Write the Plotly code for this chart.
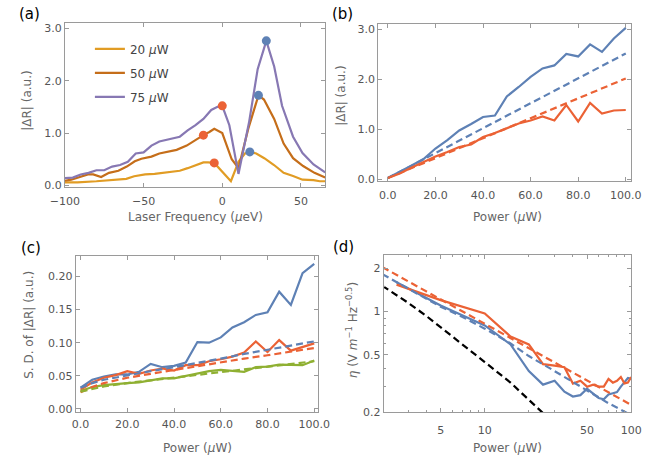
import plotly.graph_objects as go

# ---------------- panel (a): |ΔR| vs laser detuning ----------------
freq_20 = [-100, -92, -80, -72, -61, -56, -49, -43, -37, -31, -27, -22, -17, -12, -9, -5.1,
           5.5, 10.3, 14.4, 17.5, 21.6, 26.7, 32.9, 39, 45, 51, 58, 62, 65.4]
dr_20 = [0.06, 0.06, 0.08, 0.10, 0.125, 0.175, 0.21, 0.22, 0.24, 0.26, 0.28, 0.33, 0.39, 0.44, 0.44, 0.43,
         0.08, 0.45, 0.61, 0.64, 0.61, 0.52, 0.39, 0.24, 0.18, 0.11, 0.10, 0.08, 0.08]

freq_50 = [-100, -96, -90.5, -85.4, -82, -77, -72, -66, -60.7, -55.6, -51.4, -45, -40, -35, -29,
           -22.6, -17.5, -12, -8.2, -5.1, 0, 6, 10.3, 16.5, 23, 26.5, 33, 39, 45, 51.4, 58.6, 65.4]
dr_50 = [0.09, 0.11, 0.16, 0.21, 0.21, 0.16, 0.24, 0.28, 0.36, 0.46, 0.51, 0.55, 0.61, 0.64, 0.68,
         0.76, 0.86, 0.96, 1.02, 1.08, 1.00, 0.50, 0.33, 1.08, 1.72, 1.64, 1.27, 0.80, 0.52, 0.37, 0.24, 0.15]

freq_75 = [-100, -95, -90, -85, -80, -75, -70, -65, -60, -55, -50, -45, -40, -35, -30, -27, -22,
           -17, -12, -7, -3, 0, 4.5, 10.3, 17, 22.5, 28, 33, 38, 45, 51, 58, 65.4]
dr_75 = [0.14, 0.15, 0.21, 0.24, 0.29, 0.29, 0.36, 0.39, 0.45, 0.61, 0.63, 0.76, 0.84, 0.88, 0.91, 0.93, 1.05,
         1.15, 1.27, 1.44, 1.50, 1.52, 1.15, 0.22, 1.20, 2.22, 2.76, 2.27, 1.52, 0.93, 0.62, 0.40, 0.25]

low_peak_freq = [0, -12, -5.1]
low_peak_dr = [1.52, 0.96, 0.43]
high_peak_freq = [28, 23, 17.5]
high_peak_dr = [2.76, 1.72, 0.64]

# ---------------- panel (b): peak height vs power ----------------
power = [0, 5, 10, 15, 20, 25, 30, 35, 40, 45, 50, 55, 60, 65, 70, 75, 80, 85, 90, 95, 100]
peak_blue = [0.03, 0.15, 0.28, 0.41, 0.62, 0.79, 0.98, 1.11, 1.25, 1.28, 1.66, 1.85, 2.05, 2.22, 2.28,
             2.51, 2.46, 2.70, 2.55, 2.82, 3.03]
peak_red = [0.03, 0.12, 0.24, 0.35, 0.46, 0.55, 0.65, 0.70, 0.85, 0.93, 1.02, 1.12, 1.18, 1.26, 1.18,
            1.49, 1.16, 1.53, 1.32, 1.38, 1.39]
lin_power = [0, 100]
lin_blue = [0.03, 2.52]
lin_red = [0.03, 2.02]

# ---------------- panel (c): standard deviation vs power ----------------
sd_blue = [0.032, 0.044, 0.049, 0.052, 0.052, 0.056, 0.068, 0.063, 0.065, 0.070, 0.101, 0.100, 0.108,
           0.123, 0.131, 0.142, 0.146, 0.177, 0.157, 0.205, 0.219]
sd_red = [0.029, 0.040, 0.047, 0.051, 0.057, 0.053, 0.058, 0.061, 0.058, 0.066, 0.066, 0.072, 0.075,
          0.079, 0.085, 0.102, 0.086, 0.104, 0.088, 0.093, 0.099]
sd_green = [0.027, 0.033, 0.036, 0.038, 0.039, 0.040, 0.043, 0.046, 0.046, 0.050, 0.053, 0.057, 0.059,
            0.058, 0.056, 0.063, 0.064, 0.067, 0.067, 0.066, 0.073]
sd_fit_power = [0, 5, 10, 20, 30, 40, 50, 60, 70, 80, 90, 100]
sd_fit_blue = [0.032, 0.039, 0.044, 0.051, 0.057, 0.063, 0.069, 0.076, 0.083, 0.089, 0.096, 0.102]
sd_fit_red = [0.025, 0.033, 0.039, 0.047, 0.053, 0.059, 0.064, 0.070, 0.076, 0.081, 0.087, 0.092]
sd_fit_green = [0.026, 0.030, 0.034, 0.039, 0.043, 0.047, 0.052, 0.056, 0.060, 0.064, 0.068, 0.072]

# ---------------- panel (d): sensitivity vs power (log-log) ----------------
eta_power = [2.5, 5, 10, 15, 20, 25, 30, 35, 40, 45, 50, 55, 60, 65, 70, 75, 80, 85, 90, 95, 100]
eta_blue = [1.60, 1.10, 0.80, 0.59, 0.385, 0.31, 0.33, 0.277, 0.256, 0.262, 0.29, 0.27, 0.25, 0.245,
            0.265, 0.27, 0.275, 0.30, 0.32, 0.345, 0.34]
eta_red = [1.54, 1.20, 0.97, 0.67, 0.59, 0.43, 0.42, 0.41, 0.315, 0.33, 0.30, 0.31, 0.30, 0.30,
           0.34, 0.32, 0.33, 0.35, 0.316, 0.32, 0.35]
eta_fit_power = [2, 3, 5, 7, 10, 15, 20, 30, 50, 70, 100]
eta_fit_blue = [1.82, 1.45, 1.08, 0.92, 0.76, 0.60, 0.49, 0.385, 0.28, 0.23, 0.19]
eta_red_line_power = [2, 100]
eta_red_line = [2.04, 0.224]
eta_limit_power = [2, 3, 4, 5, 7, 10, 15, 20, 25, 30]
eta_limit = [1.51, 1.15, 0.93, 0.78, 0.59, 0.445, 0.32, 0.245, 0.20, 0.165]

BLUE = "#5E81B5"
RED = "#EB6235"
GREEN = "#8FB032"
YELLOW = "#E19C24"
DARK_ORANGE = "#C56E1A"
PURPLE = "#8778B3"
LW = 2.2
DASH = "7px,4px"

FONT = "DejaVu Sans"
W, H = 654, 466

fig = go.Figure()


def line(x, y, color, xa, ya, dash=None, name=None, legend=False, group=None):
    fig.add_trace(go.Scatter(
        x=x, y=y, mode="lines", xaxis=xa, yaxis=ya, name=name,
        line=dict(color=color, width=LW, dash=dash),
        showlegend=legend, legendgroup=group, hoverinfo="skip"))


# (a)
line(freq_20, dr_20, YELLOW, "x", "y", name="20 <i>μ</i>W", legend=True, group="g1")
line(freq_50, dr_50, DARK_ORANGE, "x", "y", name="50 <i>μ</i>W", legend=True, group="g2")
line(freq_75, dr_75, PURPLE, "x", "y", name="75 <i>μ</i>W", legend=True, group="g3")
fig.add_trace(go.Scatter(x=low_peak_freq, y=low_peak_dr, mode="markers", xaxis="x", yaxis="y",
                         marker=dict(color=RED, size=9), showlegend=False, hoverinfo="skip"))
fig.add_trace(go.Scatter(x=high_peak_freq, y=high_peak_dr, mode="markers", xaxis="x", yaxis="y",
                         marker=dict(color=BLUE, size=9), showlegend=False, hoverinfo="skip"))

# (b)
line(lin_power, lin_blue, BLUE, "x2", "y2", dash=DASH)
line(lin_power, lin_red, RED, "x2", "y2", dash=DASH)
line(power, peak_blue, BLUE, "x2", "y2")
line(power, peak_red, RED, "x2", "y2")

# (c)
line(power, sd_blue, BLUE, "x3", "y3")
line(power, sd_red, RED, "x3", "y3")
line(power, sd_green, GREEN, "x3", "y3")
line(sd_fit_power, sd_fit_blue, BLUE, "x3", "y3", dash=DASH)
line(sd_fit_power, sd_fit_red, RED, "x3", "y3", dash=DASH)
line(sd_fit_power, sd_fit_green, GREEN, "x3", "y3", dash=DASH)

# (d)
line(eta_power, eta_blue, BLUE, "x4", "y4")
line(eta_power, eta_red, RED, "x4", "y4")
line(eta_fit_power, eta_fit_blue, BLUE, "x4", "y4", dash=DASH)
line(eta_red_line_power, eta_red_line, RED, "x4", "y4", dash=DASH)
line(eta_limit_power, eta_limit, "black", "x4", "y4", dash=DASH)

FRAME = "#9a9a9a"
TICKFONT = dict(family=FONT, size=11, color="#555555")


def axis(domain, rng, anchor, **kw):
    d = dict(domain=domain, range=rng, anchor=anchor, showline=True, linecolor=FRAME, linewidth=1,
             mirror="ticks", ticks="inside", ticklen=4, tickwidth=1, tickcolor=FRAME,
             showgrid=False, zeroline=False, tickfont=TICKFONT, fixedrange=True)
    d.update(kw)
    return d


def px_x(a, b):
    return [a / W, b / W]


def px_y(top, bottom):
    return [1 - bottom / H, 1 - top / H]


minor_log = dict(ticks="inside", ticklen=2, tickcolor=FRAME)

fig.update_layout(
    width=W, height=H, margin=dict(l=0, r=0, t=0, b=0),
    paper_bgcolor="white", plot_bgcolor="white",
    font=dict(family=FONT, color="#555555"),
    xaxis=axis(px_x(52, 323), [-100, 65.4], "y", tickvals=[-100, -50, 0, 50],
               ticktext=["−100", "−50", "0", "50"], ticklabelstandoff=4),
    yaxis=axis(px_y(22.7, 189), [-0.025, 3.095], "x", tickvals=[0, 1, 2, 3], tickformat=".1f"),
    xaxis2=axis(px_x(378.3, 641), [-4.04, 102], "y2", tickvals=[0, 20, 40, 60, 80, 100], tickformat=".1f",
                ticklabelstandoff=4),
    yaxis2=axis(px_y(23.3, 182.7), [-0.02, 3.11], "x2", tickvals=[0, 1, 2, 3], tickformat=".1f"),
    xaxis3=axis(px_x(63.3, 316), [-2.05, 101.8], "y3", tickvals=[0, 20, 40, 60, 80, 100], tickformat=".1f",
                ticklabelstandoff=2),
    yaxis3=axis(px_y(259, 417.7), [-0.004, 0.2317], "x3", tickvals=[0, 0.05, 0.10, 0.15, 0.20],
                tickformat=".2f"),
    xaxis4=axis(px_x(384, 641.7), [0.3104, 2.0], "y4", type="log", tickvals=[5, 10, 50, 100],
                ticktext=["5", "10", "50", "100"], ticklabelstandoff=8,
                minor=dict(tickvals=[3, 4, 6, 7, 8, 9, 20, 30, 40, 60, 70, 80, 90], **minor_log)),
    yaxis4=axis(px_y(258.5, 418.3), [-0.70, 0.393], "x4", type="log", tickvals=[0.2, 0.5, 1, 2],
                ticktext=["0.2", "0.5", "1", "2"],
                minor=dict(tickvals=[0.3, 0.4, 0.6, 0.7, 0.8, 0.9, 1.5], **minor_log)),
    legend=dict(x=78 / W, y=1 - 34 / H, xanchor="left", yanchor="top", bgcolor="rgba(0,0,0,0)",
                font=dict(family=FONT, size=12, color="#444444"), traceorder="grouped",
                tracegroupgap=5, itemwidth=30),
)

TITLE_FONT = dict(family=FONT, size=12, color="#666666")


def note(text, x, y, angle=0, font=TITLE_FONT):
    fig.add_annotation(text=text, x=x / W, y=1 - y / H, xref="paper", yref="paper", showarrow=False,
                       textangle=angle, font=font, xanchor="center", yanchor="middle")


PANEL_FONT = dict(family=FONT, size=15, color="black")
note("(a)", 15.5, 13, font=PANEL_FONT)
note("(b)", 341, 13, font=PANEL_FONT)
note("(c)", 16.5, 251, font=PANEL_FONT)
note("(d)", 342, 250, font=PANEL_FONT)

note("Laser Frequency (<i>μ</i>eV)", 188, 220)
note("|ΔR| (a.u.)", 13, 101, angle=-90)
note("Power (<i>μ</i>W)", 512.5, 220)
note("|ΔR| (a.u.)", 340, 96, angle=-90)
note("Power (<i>μ</i>W)", 190, 455)
note("S. D. of |ΔR| (a.u.)", 15, 329, angle=-90)
note("Power (<i>μ</i>W)", 512.7, 455)
note("<i>η</i> (V <i>m</i><sup>−1</sup> Hz<sup>−0.5</sup>)", 351, 335, angle=-90)

fig.write_html("out.html")
